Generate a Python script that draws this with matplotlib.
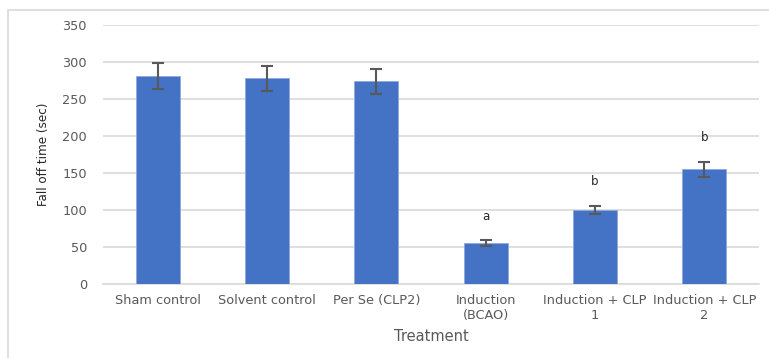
import numpy as np
import matplotlib
matplotlib.use("Agg")
import matplotlib.pyplot as plt
from matplotlib.patches import Rectangle

# treatment groups and fall off time (sec), mean +/- error
groups = ["Sham control", "Solvent control", "Per Se (CLP2)",
          "Induction\n(BCAO)", "Induction + CLP\n1", "Induction + CLP\n2"]
fall_off = [281, 278, 274, 55, 100, 155]
errors = [17, 17, 17, 4, 6, 10]
sig_letters = ["", "", "", "a", "b", "b"]

bar_color = "#4472C4"
grid_color = "#d9d9d9"
text_gray = "#595959"

fig = plt.figure(figsize=(7.69, 3.58), dpi=100)
ax = fig.add_axes([103 / 769, 74 / 358, 656 / 769, 259 / 358])

x = np.arange(len(groups))
ax.bar(x, fall_off, width=0.4, color=bar_color, edgecolor="#8faadc",
       linewidth=0.6, zorder=3)
ax.errorbar(x, fall_off, yerr=errors, fmt="none", ecolor=text_gray,
            elinewidth=1.5, capsize=4, capthick=1.5, zorder=4)

# significance letters above the error bars
for xi, v, e, s in zip(x, fall_off, errors, sig_letters):
    if s:
        ax.text(xi, v + e + 24, s, ha="center", va="bottom",
                fontsize=8.5, color="#262626")

ax.set_xlim(-0.5, len(groups) - 0.5)
ax.set_ylim(0, 350)
ax.set_yticks(np.arange(0, 351, 50))
ax.yaxis.grid(True, color=grid_color, linewidth=1.2, zorder=0)
ax.set_axisbelow(True)

for side in ["top", "right", "left"]:
    ax.spines[side].set_visible(False)
ax.spines["bottom"].set_color(grid_color)
ax.spines["bottom"].set_linewidth(1.2)

ax.set_xticks(x)
ax.set_xticklabels(groups, fontsize=9.3, color=text_gray, linespacing=1.2)
ax.tick_params(axis="both", length=0, labelsize=9.3, colors=text_gray)
ax.tick_params(axis="x", pad=7)
ax.tick_params(axis="y", pad=11.5)

ax.set_xlabel("Treatment", fontsize=10.5, color=text_gray, labelpad=5)
ax.set_ylabel("Fall off time (sec)", fontsize=9.5, color="#262626",
              fontstretch="condensed", labelpad=9)

# chart area frame
fig.patches.append(Rectangle((7.5 / 769, -0.05), 1.0, (348 / 358) + 0.05,
                             transform=fig.transFigure, fill=False,
                             edgecolor=grid_color, linewidth=1.2))

fig.savefig("out.png", dpi=100)
